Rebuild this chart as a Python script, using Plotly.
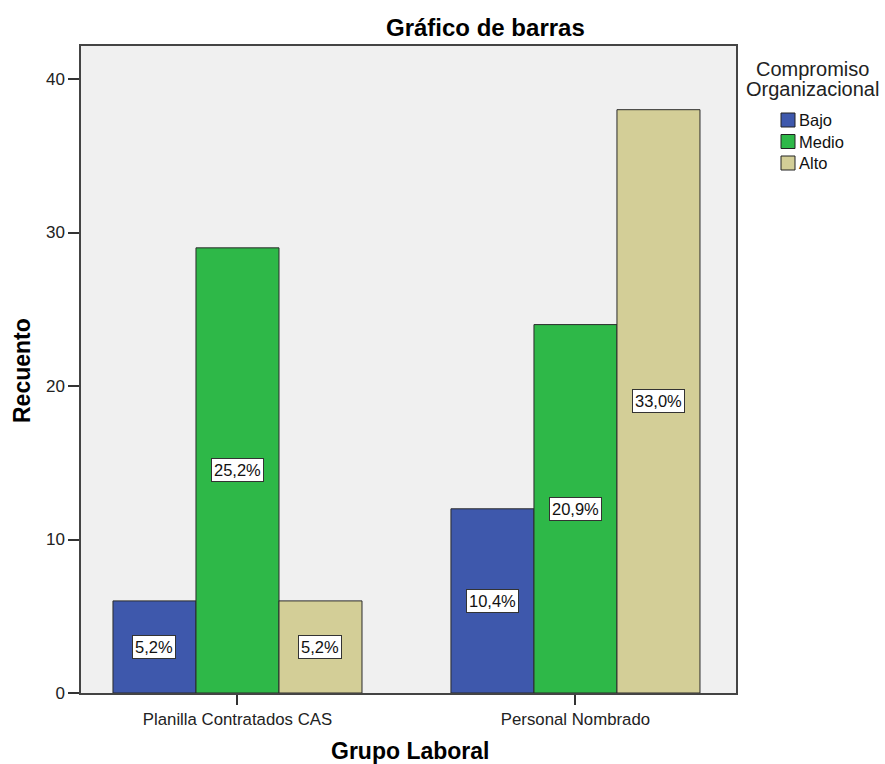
import plotly.graph_objects as go

groups = ["Planilla Contratados CAS", "Personal Nombrado"]
levels = ["Bajo", "Medio", "Alto"]
counts = {
    "Bajo": [6, 12],
    "Medio": [29, 24],
    "Alto": [6, 38],
}
pct_labels = {
    "Bajo": ["5,2%", "10,4%"],
    "Medio": ["25,2%", "20,9%"],
    "Alto": ["5,2%", "33,0%"],
}
colors = {"Bajo": "#3E58AC", "Medio": "#2EB848", "Alto": "#D3CE97"}
y_ticks = [0, 10, 20, 30, 40]

FONT = "Liberation Sans, Arial, sans-serif"
W, H = 885, 764
L, R, T, B = 81, 149, 46, 71
PW, PH = W - L - R, H - T - B


def px(xp):
    return (xp - L) / PW


def py(yp):
    return (H - B - yp) / PH


xpos = list(range(len(groups)))
bar_w = 0.2456

fig = go.Figure()
for i, lv in enumerate(levels):
    fig.add_trace(go.Bar(
        x=xpos, y=counts[lv], name=lv, width=bar_w,
        offset=(i - 1.5) * bar_w,
        marker=dict(color=colors[lv], line=dict(color="#2b2b2b", width=1)),
        hoverinfo="skip", showlegend=False,
    ))
    for gi, v in enumerate(counts[lv]):
        fig.add_annotation(
            x=xpos[gi] + (i - 1) * bar_w, y=v / 2, xref="x", yref="y",
            text=pct_labels[lv][gi], showarrow=False,
            font=dict(family=FONT, size=16.5, color="#111111"),
            bgcolor="white", bordercolor="#333333", borderwidth=1, borderpad=2,
        )

# Title and axis titles
fig.add_annotation(
    text="<b>Gráfico de barras</b>", xref="paper", yref="paper",
    x=px(485), y=py(28), xanchor="center", yanchor="middle",
    showarrow=False, font=dict(family=FONT, size=24, color="black"),
)
fig.add_annotation(
    text="<b>Grupo Laboral</b>", xref="paper", yref="paper",
    x=px(410), y=py(751), xanchor="center", yanchor="middle",
    showarrow=False, font=dict(family=FONT, size=23, color="black"),
)
fig.add_annotation(
    text="<b>Recuento</b>", xref="paper", yref="paper", textangle=-90,
    x=px(22), y=py(371), xanchor="center", yanchor="middle",
    showarrow=False, font=dict(family=FONT, size=23, color="black"),
)

# Custom legend
for txt, yy in zip(["Compromiso", "Organizacional"], [69, 89]):
    fig.add_annotation(
        text=txt, xref="paper", yref="paper",
        x=px(812), y=py(yy), xanchor="center", yanchor="middle",
        showarrow=False,
        font=dict(family=FONT, size=20, color="#222222"),
    )
leg_y = [120, 141.5, 163]
for lv, yy in zip(levels, leg_y):
    fig.add_shape(
        type="rect", xref="paper", yref="paper",
        x0=px(781), x1=px(795), y0=py(yy + 7), y1=py(yy - 7),
        fillcolor=colors[lv], line=dict(color="#222222", width=1),
    )
    fig.add_annotation(
        text=lv, xref="paper", yref="paper",
        x=px(797), y=py(yy), xanchor="left", yanchor="middle",
        showarrow=False, font=dict(family=FONT, size=16.5, color="#111111"),
    )

fig.update_layout(
    width=W, height=H,
    margin=dict(l=L, r=R, t=T, b=B),
    paper_bgcolor="white", plot_bgcolor="#F0F0F0",
    barmode="overlay",
    font=dict(family=FONT, size=16, color="#222222"),
    showlegend=False,
)
fig.update_xaxes(
    range=[-0.463, 1.475], tickvals=xpos, ticktext=groups,
    ticks="outside", ticklen=10, tickcolor="#333333", tickwidth=1.5,
    showline=True, linecolor="#444444", linewidth=1.5, mirror=True,
    showgrid=False, zeroline=False,
    tickfont=dict(family=FONT, size=16.8, color="#222222"),
)
fig.update_yaxes(
    range=[0, 42.15], tickvals=y_ticks,
    ticks="outside", ticklen=11, tickcolor="#333333", tickwidth=1.5,
    showline=True, linecolor="#444444", linewidth=1.5, mirror=True,
    showgrid=False, zeroline=False,
    tickfont=dict(family=FONT, size=17, color="#222222"),
)

fig.write_html("out.html")
